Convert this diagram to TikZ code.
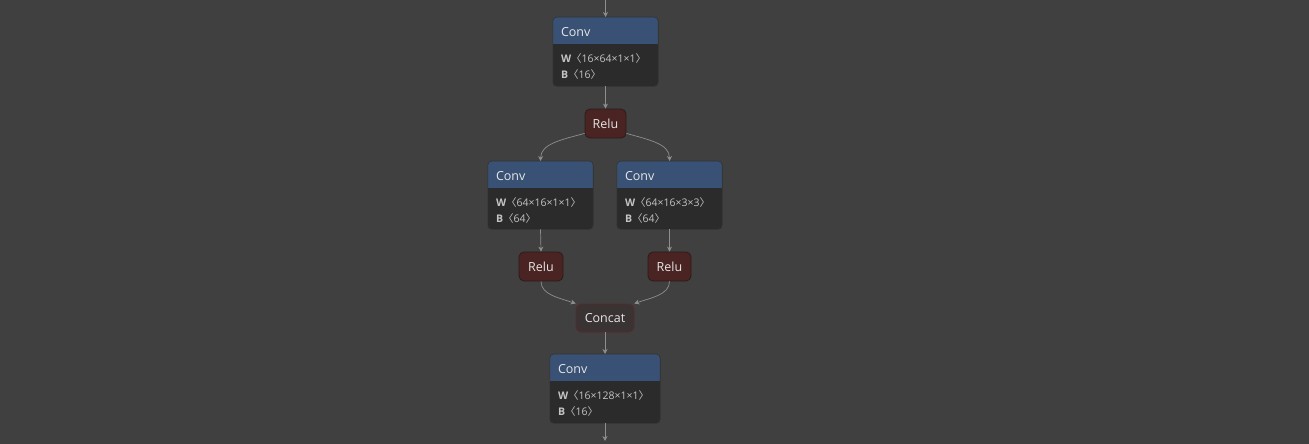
\documentclass[tikz,border=0pt]{standalone}
\usepackage{fontspec}
\setmainfont{Open Sans}
\newfontfamily\cjkfont{Noto Sans CJK SC}
\usetikzlibrary{arrows.meta}
\definecolor{bgc}{HTML}{404040}
\definecolor{hdr}{HTML}{395174}
\definecolor{bodyc}{HTML}{2B2B2B}
\definecolor{edgec}{HTML}{8E8E8E}
\definecolor{reluc}{HTML}{4A2323}
\definecolor{relub}{HTML}{2E1A1A}
\definecolor{catc}{HTML}{3A3333}
\definecolor{catb}{HTML}{5A2A2A}
\definecolor{txt}{HTML}{E6E6E6}
\definecolor{attr}{HTML}{C4C4C4}
\newcommand{\lb}{{\cjkfont 〈}}
\newcommand{\rb}{{\cjkfont 〉}}
% Conv block: name, centre x, top y, width, height, weight shape, bias shape
\newcommand{\convblock}[7]{%
  \node[convbox, minimum width=#4pt, minimum height=#5pt, anchor=north] (#1) at (#2,#3) {};
  \begin{scope}
    \clip[rounded corners=4pt] (#1.south west) rectangle (#1.north east);
    \fill[hdr] (#1.north west) rectangle ([yshift=-27pt]#1.north east);
  \end{scope}
  \draw[convline, rounded corners=4pt] (#1.south west) rectangle (#1.north east);
  \node[hdrtext, anchor=west] (#1-t) at ([xshift=8pt,yshift=-15.5pt]#1.north west) {Conv};
  \node[attrtext, anchor=west] (#1-w) at ([xshift=8pt,yshift=-41.5pt]#1.north west) {\textbf{W}\lb#6\rb};
  \node[attrtext, anchor=west] (#1-b) at ([xshift=8pt,yshift=-57.5pt]#1.north west) {\textbf{B}\lb#7\rb};
}
\tikzset{
  convbox/.style={draw=none, fill=bodyc, rounded corners=4pt, inner sep=0pt},
  convline/.style={draw=black!80, line width=0.6pt},
  hdrtext/.style={text=txt, font=\fontsize{12.5}{14}\selectfont, inner sep=0pt},
  attrtext/.style={text=attr, font=\fontsize{10.5}{12}\selectfont, inner sep=0pt},
  relubox/.style={fill=reluc, draw=relub, line width=0.8pt, rounded corners=5pt,
    minimum height=29pt, inner sep=0pt, text=txt, font=\fontsize{12.5}{14}\selectfont},
  catbox/.style={fill=catc, draw=catb, line width=0.8pt, rounded corners=5pt,
    minimum height=28pt, inner sep=0pt, text=txt, font=\fontsize{12.5}{14}\selectfont},
  edge/.style={draw=edgec, line width=0.7pt, -{Stealth[length=5pt,width=5pt]}}
}
\begin{document}
\begin{tikzpicture}[x=1pt,y=-1pt]
  \fill[bgc] (0,0) rectangle (1309,444);
  \useasboundingbox (0,0) rectangle (1309,444);

  \convblock{c1}{605.5}{17}{105}{69}{16×64×1×1}{16}
  \node[relubox, minimum width=41pt] (r1) at (605.5,123.5) {Relu};
  \convblock{c2}{540.5}{161}{105}{68}{64×16×1×1}{64}
  \convblock{c3}{669.5}{161}{105}{68}{64×16×3×3}{64}
  \node[relubox, minimum width=44pt] (r2) at (541,266.5) {Relu};
  \node[relubox, minimum width=43pt] (r3) at (669.5,266.5) {Relu};
  \node[catbox, minimum width=58pt] (cat) at (605,318) {Concat};
  \convblock{c4}{605}{354}{110}{69}{16×128×1×1}{16}

  \coordinate (in) at (605.5,0);
  \coordinate (out) at (605,441);

  \draw[edge] (in) -- (c1.north);
  \draw[edge] (c1.south) -- (r1.north);
  \draw[edge] ([yshift=5pt]r1.south west) .. controls (560,140) and (541,144) .. (c2.north);
  \draw[edge] ([yshift=5pt]r1.south east) .. controls (650,140) and (669.5,144) .. (c3.north);
  \draw[edge] (c2.south) -- (r2.north);
  \draw[edge] (c3.south) -- (r3.north);
  \draw[edge] (r2.south) .. controls (541,295) and (560,298) .. (cat.north west);
  \draw[edge] (r3.south) .. controls (669.5,295) and (650,298) .. (cat.north east);
  \draw[edge] (cat.south) -- (c4.north);
  \draw[edge] (c4.south) -- (out);
\end{tikzpicture}
\end{document}
